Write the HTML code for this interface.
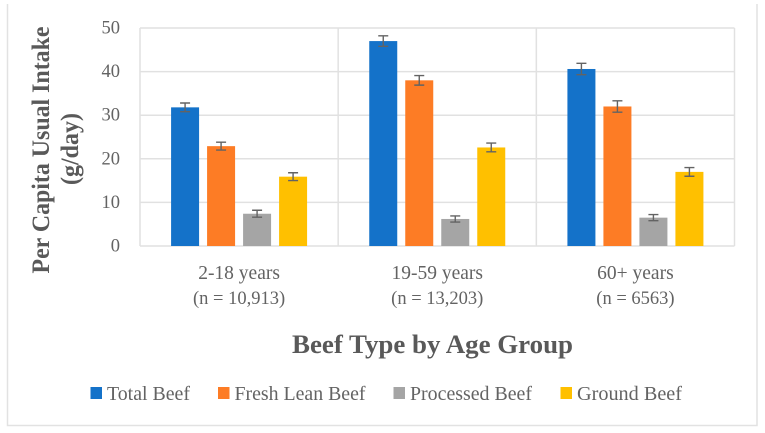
<!DOCTYPE html>
<html>
<head>
<meta charset="utf-8">
<title>Per Capita Usual Beef Intake</title>
<style>
html,body{margin:0;padding:0;background:#fff;}
svg{display:block;}
text{font-family:"Liberation Serif",serif;fill:#636363;}
text.bold{fill:#595959;font-weight:700;}
</style>
</head>
<body>
<svg id="chart" width="765" height="433" viewBox="0 0 765 433" xmlns="http://www.w3.org/2000/svg">
  <path d="M7.5 4V425.5H757V4" fill="none" stroke="#e2e2e2" stroke-width="1.5"/>
  <g id="grid"></g>
  <g id="bars"></g>
  <g id="errs"></g>
  <g id="yticks"></g>
  <g id="xticks"></g>
  <text class="bold" transform="translate(49,150) rotate(-90)" text-anchor="middle" font-size="25" textLength="247" lengthAdjust="spacingAndGlyphs">Per Capita Usual Intake</text>
  <text class="bold" transform="translate(78,149) rotate(-90)" text-anchor="middle" font-size="25" textLength="72" lengthAdjust="spacingAndGlyphs">(g/day)</text>
  <text class="bold" x="432.5" y="353" text-anchor="middle" font-size="26" textLength="281" lengthAdjust="spacingAndGlyphs">Beef Type by Age Group</text>
  <g id="legend"></g>
</svg>
<script>
const categories = ['2-18 years', '19-59 years', '60+ years'];
const sampleSizes = ['(n = 10,913)', '(n = 13,203)', '(n = 6563)'];
const seriesNames = ['Total Beef', 'Fresh Lean Beef', 'Processed Beef', 'Ground Beef'];
const totalBeef = [31.8, 47.0, 40.6];
const freshLeanBeef = [22.9, 38.0, 32.0];
const processedBeef = [7.4, 6.2, 6.5];
const groundBeef = [15.9, 22.6, 17.0];
const totalBeefErr = [1.0, 1.2, 1.3];
const freshLeanBeefErr = [0.9, 1.1, 1.3];
const processedBeefErr = [0.8, 0.7, 0.7];
const groundBeefErr = [0.9, 1.0, 1.0];
const yTicks = [0, 10, 20, 30, 40, 50];

const seriesValues = [totalBeef, freshLeanBeef, processedBeef, groundBeef];
const seriesErrors = [totalBeefErr, freshLeanBeefErr, processedBeefErr, groundBeefErr];
const colors = ['#1472c9', '#fd7c25', '#a5a5a5', '#ffc000'];
const NS = 'http://www.w3.org/2000/svg';
const plot = {left: 140, right: 734.5, top: 28, bottom: 246};
const yMax = yTicks[yTicks.length - 1];
const groupW = (plot.right - plot.left) / categories.length;
const barW = 28, barStep = 36;

function yScale(v) { return plot.bottom - (v / yMax) * (plot.bottom - plot.top); }
function groupX(i) { return plot.left + groupW * i; }
function groupCenter(i) { return groupX(i) + groupW / 2; }
function barX(i, s) {
  return groupCenter(i) - (barStep * seriesNames.length - (barStep - barW)) / 2 + barStep * s;
}
function mk(tag, parent, attrs, text) {
  const el = document.createElementNS(NS, tag);
  for (const k in attrs) el.setAttribute(k, attrs[k]);
  if (text !== undefined) el.textContent = text;
  parent.appendChild(el);
  return el;
}
const gridG = document.getElementById('grid');
const barsG = document.getElementById('bars');
const errsG = document.getElementById('errs');
const yG = document.getElementById('yticks');
const xG = document.getElementById('xticks');
const legG = document.getElementById('legend');
const gridColor = '#e1e1e1';

yTicks.forEach(function (t) {
  const line = mk('line', gridG, {x1: plot.left, x2: plot.right, y1: yScale(t), y2: yScale(t), stroke: gridColor, 'stroke-width': 1.5});
  
  
  const label = mk('text', yG, {x: 120, y: yScale(t) + 5.5, 'text-anchor': 'end', 'font-size': 18.5}, String(t));
  
  
});

for (let i = 0; i <= categories.length; i++) {
  const line = mk('line', gridG, {x1: groupX(i), x2: groupX(i), y1: plot.top, y2: plot.bottom, stroke: gridColor, 'stroke-width': 1.5});
  
  
}

categories.forEach(function (c, i) {
  const a = mk('text', xG, {x: groupCenter(i), y: 279, 'text-anchor': 'middle', 'font-size': 19.5}, c);
  
  
  const b = mk('text', xG, {x: groupCenter(i), y: 304, 'text-anchor': 'middle', 'font-size': 18.5}, sampleSizes[i]);
  
  
});

seriesValues.forEach(function (vals, s) {
  vals.forEach(function (v, i) {
    const r = mk('rect', barsG, {x: barX(i, s), y: yScale(v), width: barW, height: plot.bottom - yScale(v), fill: colors[s]});
    
    
    const e = seriesErrors[s][i];
    const cx = barX(i, s) + barW / 2;
    const y1 = yScale(v + e), y2 = yScale(v - e);
    const path = mk('path', errsG, {
      d: 'M' + (cx - 5) + ' ' + y1 + 'H' + (cx + 5) + 'M' + cx + ' ' + y1 + 'V' + y2 + 'M' + (cx - 5) + ' ' + y2 + 'H' + (cx + 5),
      fill: 'none', stroke: '#636363', 'stroke-width': 1.4
    });
    
    
  });
});

const legendSwatchX = [90.5, 218, 393.5, 560.5];
const legendTextW = [83, 131, 122, 105];
seriesNames.forEach(function (n, s) {
  const sw = mk('rect', legG, {x: legendSwatchX[s], y: 387, width: 11.5, height: 12, fill: colors[s]});
  
  
  const t = mk('text', legG, {x: legendSwatchX[s] + 16.5, y: 400, 'font-size': 20, textLength: legendTextW[s], lengthAdjust: 'spacingAndGlyphs'}, n);
  
  
});
</script>
</body>
</html>
